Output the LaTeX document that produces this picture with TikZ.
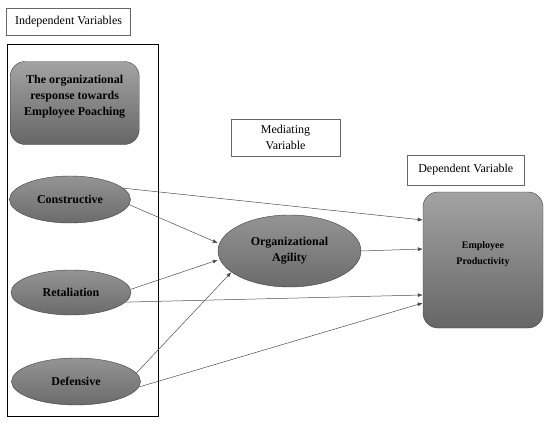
\documentclass[tikz,border=0pt]{standalone}
\usepackage{fontspec}
\setmainfont{Liberation Serif}
\usetikzlibrary{positioning}
\usetikzlibrary{shapes.geometric}
\usetikzlibrary{arrows.meta}

\begin{document}
\begin{tikzpicture}[x=1pt, y=-1pt, line width=0.4pt, align=center, font=\fontsize{12}{16}\selectfont,
    tag/.style={draw=black!60, inner sep=0pt},
    factor/.style={ellipse, draw=black!75, top color=black!42, bottom color=black!58, inner sep=0pt, font=\fontsize{12}{16}\selectfont\bfseries},
    block/.style={rounded corners=15pt, draw=black!75, top color=black!36, bottom color=black!60, inner sep=0pt},
    link/.style={draw=black!70, line width=0.5pt},
    arrow/.style={link, -{Latex[length=5pt, width=4pt]}}]
    \useasboundingbox (0,0) rectangle (550,423);
    % Nodes
    \node (indeptag) [tag, minimum width=124pt, minimum height=27pt] at (68.5,21.8) {Independent Variables};
    \node (frame) [draw, line width=0.8pt, minimum width=151pt, minimum height=372pt] at (82.8,230.5) {};
    \node (response) [block, minimum width=129pt, minimum height=83pt, text depth=16pt, font=\fontsize{12}{16}\selectfont\bfseries] at (74.7,103) {The organizational\\response towards\\Employee Poaching};
    \node (constructive) [factor, minimum width=121pt, minimum height=47pt] at (70,199.5) {Constructive};
    \node (retaliation) [factor, minimum width=120pt, minimum height=45pt] at (71,292.5) {Retaliation};
    \node (defensive) [factor, minimum width=129pt, minimum height=47pt] at (76,381.5) {Defensive};
    \node (medtag) [tag, minimum width=109pt, minimum height=37pt] at (285.5,137.4) {Mediating\\Variable};
    \node (agility) [factor, minimum width=143pt, minimum height=72pt] at (289.5,251) {Organizational\\Agility};
    \node (deptag) [tag, minimum width=117pt, minimum height=30pt] at (465.8,170) {Dependent Variable};
    \node (productivity) [block, minimum width=120pt, minimum height=136pt, text depth=14pt, font=\fontsize{10}{16}\selectfont\bfseries] at (483,260) {Employee\\Productivity};

    % Lines
    \draw [arrow] (constructive.12) -- ([yshift=40pt]productivity.west);
    \draw [arrow] (constructive.-5) -- ([yshift=8pt]agility.west);
    \draw [arrow] (retaliation.3) -- ([yshift=-9pt]agility.west);
    \draw [arrow] (retaliation.-10) -- ([yshift=-35pt]productivity.west);
    \draw [arrow] (defensive.8) -- (agility.200);
    \draw [arrow] (defensive.-5) -- ([yshift=-43pt]productivity.west);
    \draw [arrow] (agility.east) -- ([yshift=11pt]productivity.west);
\end{tikzpicture}
\end{document}
